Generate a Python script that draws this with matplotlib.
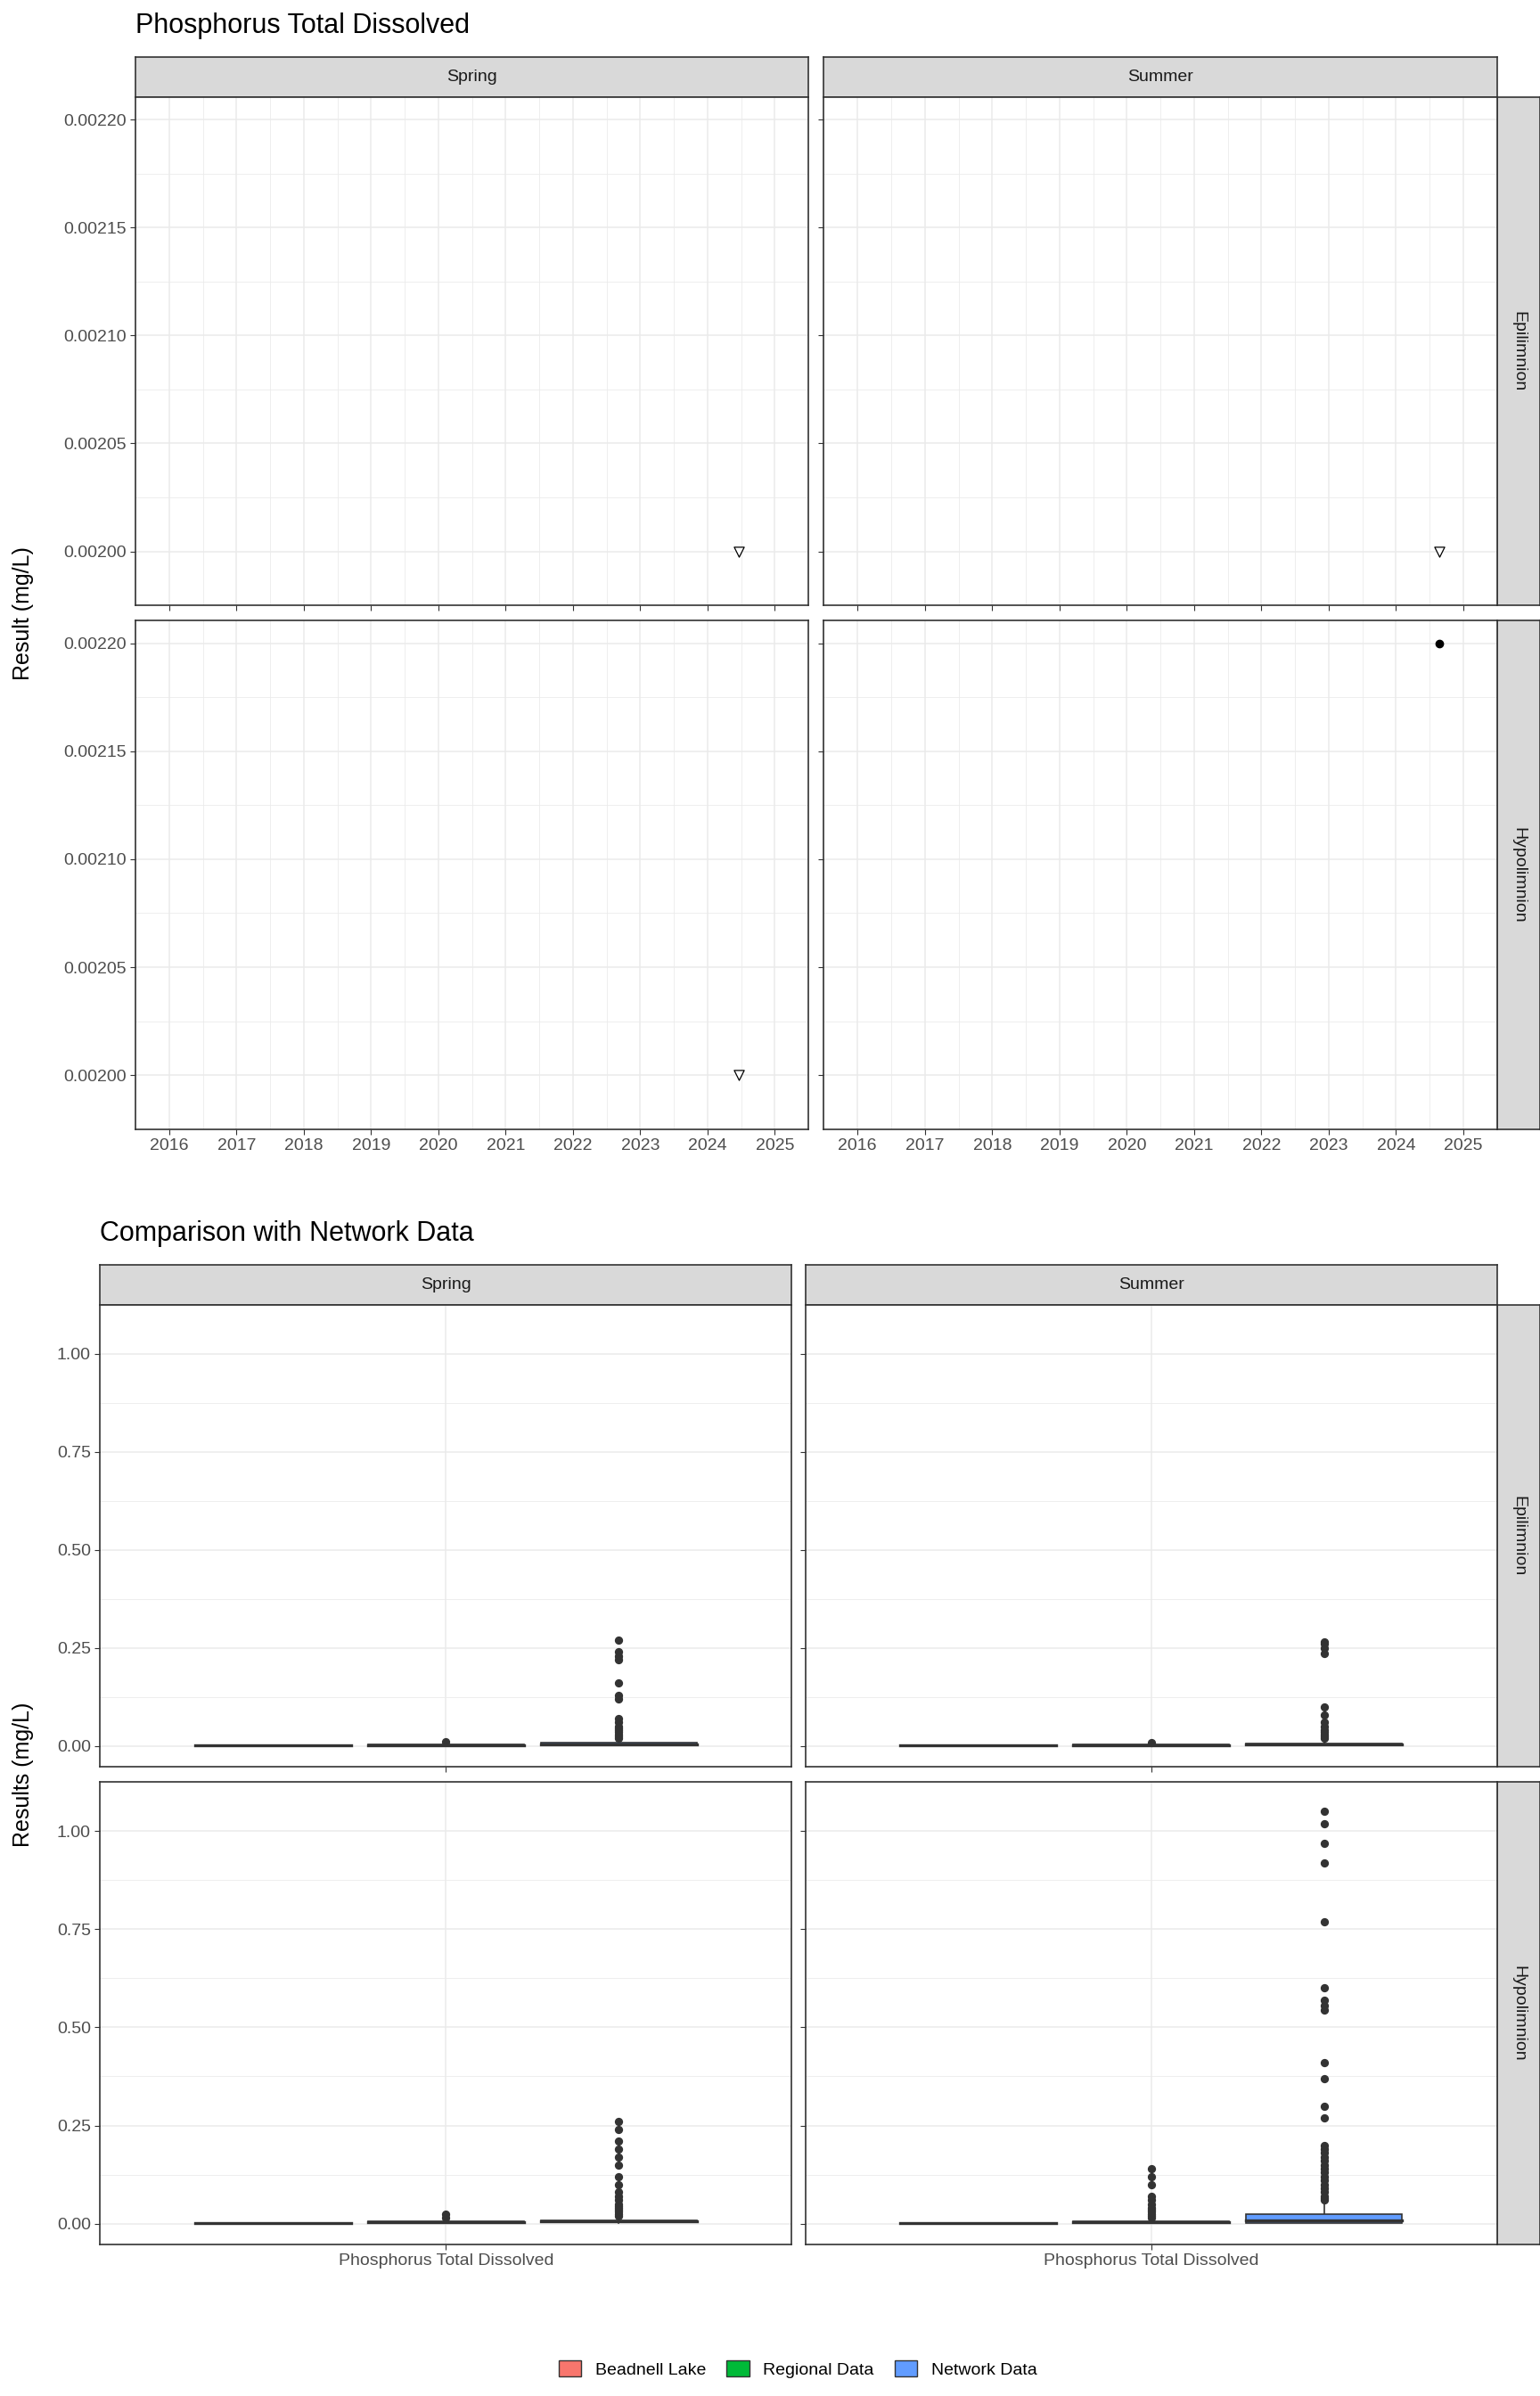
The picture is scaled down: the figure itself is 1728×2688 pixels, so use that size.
import matplotlib
matplotlib.use("Agg")
import matplotlib.pyplot as plt
from matplotlib.patches import Rectangle
import numpy as np

plt.rcParams["font.family"] = "Liberation Sans"

W, H = 1728, 2688
S = 1.728  # reference scale (drawn at 1000 px wide)

seasons = ["Spring", "Summer"]
layers = ["Epilimnion", "Hypolimnion"]
years = list(range(2016, 2026))

# top chart: (season, layer) -> (decimal year, value, censored)
ts_points = {
    ("Spring", "Epilimnion"): [(2024.46, 0.00200, True)],
    ("Summer", "Epilimnion"): [(2024.64, 0.00200, True)],
    ("Spring", "Hypolimnion"): [(2024.46, 0.00200, True)],
    ("Summer", "Hypolimnion"): [(2024.64, 0.00220, False)],
}

groups = ["Beadnell Lake", "Regional Data", "Network Data"]
colors = ["#F8766D", "#00BA38", "#619CFF"]

# box stats per panel: [q1, med, q3, whislo, whishi] per group
box_stats = {
    ("Spring", "Epilimnion"): [[0.002, 0.002, 0.002, 0.002, 0.002],
                               [0.002, 0.003, 0.004, 0.001, 0.007],
                               [0.003, 0.005, 0.008, 0.001, 0.015]],
    ("Summer", "Epilimnion"): [[0.002, 0.002, 0.002, 0.002, 0.002],
                               [0.002, 0.003, 0.004, 0.001, 0.006],
                               [0.003, 0.005, 0.007, 0.001, 0.014]],
    ("Spring", "Hypolimnion"): [[0.001, 0.001, 0.001, 0.001, 0.001],
                                [0.002, 0.003, 0.005, 0.001, 0.009],
                                [0.003, 0.005, 0.009, 0.001, 0.018]],
    ("Summer", "Hypolimnion"): [[0.002, 0.002, 0.002, 0.002, 0.002],
                                [0.002, 0.003, 0.005, 0.001, 0.010],
                                [0.002, 0.008, 0.025, 0.001, 0.055]],
}
outliers = {
    ("Spring", "Epilimnion"): [[], [0.012],
                               [0.27, 0.24, 0.23, 0.22, 0.16, 0.13, 0.12, 0.07, 0.06,
                                0.05, 0.045, 0.04, 0.035, 0.03, 0.025, 0.02]],
    ("Summer", "Epilimnion"): [[], [0.008],
                               [0.265, 0.26, 0.25, 0.235, 0.10, 0.08, 0.06, 0.05,
                                0.04, 0.035, 0.03, 0.025, 0.02]],
    ("Spring", "Hypolimnion"): [[], [0.025, 0.015],
                                [0.26, 0.24, 0.21, 0.19, 0.17, 0.15, 0.12, 0.10, 0.08,
                                 0.07, 0.06, 0.05, 0.045, 0.04, 0.035, 0.03, 0.025, 0.02]],
    ("Summer", "Hypolimnion"): [[], [0.14, 0.12, 0.10, 0.07, 0.06, 0.05, 0.04, 0.035,
                                     0.03, 0.025, 0.02, 0.015],
                                [1.05, 1.02, 0.97, 0.92, 0.77, 0.60, 0.57, 0.555, 0.545,
                                 0.41, 0.37, 0.30, 0.27, 0.20, 0.19, 0.18, 0.17, 0.16,
                                 0.15, 0.14, 0.13, 0.12, 0.11, 0.10, 0.09, 0.08, 0.07,
                                 0.065, 0.06]],
}

GRID = "#EBEBEB"
STRIP = "#D9D9D9"
TXT = "#4D4D4D"

fig = plt.figure(figsize=(W / 100, H / 100), dpi=100)


def rect(x0, y0, x1, y1):
    # reference-pixel box (1000 wide) -> figure fraction
    return [x0 * S / W, 1 - y1 * S / H, (x1 - x0) * S / W, (y1 - y0) * S / H]


def style(ax):
    ax.set_facecolor("white")
    for sp in ax.spines.values():
        sp.set_color("#333333")
        sp.set_linewidth(1.2)
    ax.tick_params(colors="#333333", labelcolor=TXT, labelsize=14, length=4)
    ax.set_axisbelow(True)


def strip_ax(x0, x1, y0, y1, text, rot):
    a = fig.add_axes(rect(x0, y0, x1, y1))
    a.set_xticks([]); a.set_yticks([])
    a.set_facecolor(STRIP)
    for sp in a.spines.values():
        sp.set_color("#333333"); sp.set_linewidth(1.2)
    a.text(0.5, 0.5, text, ha="center", va="center", fontsize=14, color="#1A1A1A",
           rotation=rot)


# ---------------- top chart ----------------
fig.text(88 * S / W, 1 - 17 * S / H, "Phosphorus Total Dissolved", fontsize=22,
         va="center", ha="left")
cols_top = [(88, 525), (535, 972)]
rows_top = [(63, 393), (403, 733)]
yt = [0.00200, 0.00205, 0.00210, 0.00215, 0.00220]
for j, s in enumerate(seasons):
    strip_ax(cols_top[j][0], cols_top[j][1], 37, 63, s, 0)
for i, l in enumerate(layers):
    strip_ax(972, 1000, rows_top[i][0], rows_top[i][1], l, -90)
    for j, s in enumerate(seasons):
        ax = fig.add_axes(rect(cols_top[j][0], rows_top[i][0], cols_top[j][1], rows_top[i][1]))
        style(ax)
        ax.set_xlim(2015.58, 2025.48)
        ax.set_ylim(0.0019914, 0.0022105)
        ax.set_xticks(years)
        ax.set_xticks(np.arange(2015.5, 2025.6, 1.0), minor=True)
        ax.set_yticks(yt)
        ax.set_yticks(np.arange(0.001975, 0.00222, 0.00005), minor=True)
        ax.grid(True, which="major", color=GRID, lw=1.1)
        ax.grid(True, which="minor", color=GRID, lw=0.6)
        ax.tick_params(which="minor", length=0)
        if j == 0:
            ax.set_yticklabels(["%.5f" % v for v in yt])
        else:
            ax.set_yticklabels([])
        if i == 1:
            ax.set_xticklabels([str(y) for y in years])
        else:
            ax.set_xticklabels([])
        for x, v, cens in ts_points[(s, l)]:
            if cens:
                ax.scatter([x], [v], marker="v", s=65, facecolors="white",
                           edgecolors="black", linewidths=0.9, zorder=3)
            else:
                ax.scatter([x], [v], marker="o", s=36, color="black", zorder=3)
fig.text(15 * S / W, 1 - 398 * S / H, "Result (mg/L)", rotation=90, fontsize=18,
         ha="center", va="center")

# ---------------- bottom chart ----------------
fig.text(65 * S / W, 1 - 801 * S / H, "Comparison with Network Data", fontsize=22,
         va="center", ha="left")
cols_bot = [(65, 514), (523, 972)]
rows_bot = [(847, 1147), (1157, 1457)]
yb = [0.0, 0.25, 0.5, 0.75, 1.0]
offsets = [-0.3, 0.0, 0.3]
bw = 0.27
for j, s in enumerate(seasons):
    strip_ax(cols_bot[j][0], cols_bot[j][1], 821, 847, s, 0)
for i, l in enumerate(layers):
    strip_ax(972, 1000, rows_bot[i][0], rows_bot[i][1], l, -90)
    for j, s in enumerate(seasons):
        ax = fig.add_axes(rect(cols_bot[j][0], rows_bot[i][0], cols_bot[j][1], rows_bot[i][1]))
        style(ax)
        ax.set_xlim(0.4, 1.6)
        ax.set_ylim(-0.0525, 1.1025)
        ax.set_xticks([1])
        ax.set_yticks(yb)
        ax.set_yticks([0.125, 0.375, 0.625, 0.875, 1.125], minor=True)
        ax.grid(True, which="major", color=GRID, lw=1.1)
        ax.grid(True, which="minor", axis="y", color=GRID, lw=0.6)
        ax.tick_params(which="minor", length=0)
        ax.set_yticklabels(["%.2f" % v for v in yb] if j == 0 else [])
        ax.set_xticklabels(["Phosphorus Total Dissolved"] if i == 1 else [])
        for g in range(3):
            q1, med, q3, lo, hi = box_stats[(s, l)][g]
            xc = 1 + offsets[g]
            ax.plot([xc, xc], [lo, q1], color="#333333", lw=1.2, zorder=2)
            ax.plot([xc, xc], [q3, hi], color="#333333", lw=1.2, zorder=2)
            ax.add_patch(Rectangle((xc - bw / 2, q1), bw, q3 - q1, facecolor=colors[g],
                                   edgecolor="#333333", lw=1.2, zorder=3))
            ax.plot([xc - bw / 2, xc + bw / 2], [med, med], color="#333333", lw=2.4, zorder=4)
            out = outliers[(s, l)][g]
            if out:
                ax.scatter([xc] * len(out), out, s=32, color="#333333", zorder=5)
fig.text(15 * S / W, 1 - 1152 * S / H, "Results (mg/L)", rotation=90, fontsize=18,
         ha="center", va="center")

# legend
handles = [Rectangle((0, 0), 1, 1, facecolor=c, edgecolor="#333333") for c in colors]
fig.legend(handles, groups, loc="center", bbox_to_anchor=(518 * S / W, 1 - 1538 * S / H),
           ncol=3, frameon=False, fontsize=14, handlelength=1.3, handleheight=1.1,
           columnspacing=1.2)

fig.savefig("out.png", dpi=100, facecolor="white")
